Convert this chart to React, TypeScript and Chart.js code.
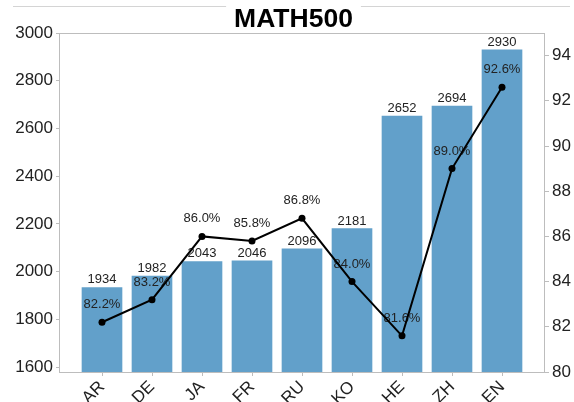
import React, { useEffect, useRef } from 'react';
import { Chart, registerables } from 'chart.js';

Chart.register(...registerables);

const categories = ['AR', 'DE', 'JA', 'FR', 'RU', 'KO', 'HE', 'ZH', 'EN'];
const tokenCounts = [1934, 1982, 2043, 2046, 2096, 2181, 2652, 2694, 2930];
const accuracy = [82.2, 83.2, 86.0, 85.8, 86.8, 84.0, 81.6, 89.0, 92.6];
const leftTicks = [1600, 1800, 2000, 2200, 2400, 2600, 2800, 3000];
const rightTicks = [80, 82, 84, 86, 88, 90, 92, 94];
const chartTitle = 'MATH500';

const FONT = '"Liberation Sans", Arial, sans-serif';
const TEXT = '#222';
const SPINE = '#bdbdbd';

const decor = {
  id: 'decor',
  beforeDatasetDraw(chart: any, args: any) {
    if (args.index !== 1) return;
    const ctx = chart.ctx;
    ctx.save();
    ctx.fillStyle = TEXT;
    ctx.font = `13px ${FONT}`;
    ctx.textAlign = 'center';
    ctx.textBaseline = 'alphabetic';
    chart.getDatasetMeta(0).data.forEach((el: any, i: number) => {
      ctx.fillText(String(tokenCounts[i]), el.x, el.y - 4);
    });
    chart.getDatasetMeta(1).data.forEach((el: any, i: number) => {
      ctx.fillText(accuracy[i].toFixed(1) + '%', el.x, el.y - 14);
    });
    ctx.restore();
  },
  afterDraw(chart: any) {
    const { ctx, chartArea: a } = chart;
    ctx.save();
    ctx.strokeStyle = SPINE;
    ctx.lineWidth = 1;
    ctx.strokeRect(a.left - 0.5, a.top + 0.5, a.right - a.left, a.bottom - a.top);
    ctx.font = `bold 26.5px ${FONT}`;
    const w = ctx.measureText(chartTitle).width;
    const cx = 293.5;
    ctx.strokeStyle = '#d4d4d4';
    ctx.beginPath();
    ctx.moveTo(13, 6.5);
    ctx.lineTo(cx - w / 2 - 8, 6.5);
    ctx.moveTo(cx + w / 2 + 8, 6.5);
    ctx.lineTo(570, 6.5);
    ctx.stroke();
    ctx.fillStyle = '#000';
    ctx.textAlign = 'center';
    ctx.textBaseline = 'alphabetic';
    ctx.fillText(chartTitle, cx, 27);
    ctx.restore();
  },
};

export default function App() {
  const ref = useRef<HTMLCanvasElement>(null);
  useEffect(() => {
    if (!ref.current) return;
    const tickFont = { family: FONT, size: 17 };
    const gridCfg = { drawOnChartArea: false, drawTicks: true, tickLength: 4, color: SPINE, offset: false };
    const chart = new Chart(ref.current, {
      type: 'bar',
      data: {
        datasets: [
          {
            type: 'bar',
            data: tokenCounts.map((v, i) => ({ x: i, y: v })),
            backgroundColor: '#62a0ca',
            borderWidth: 0,
            barThickness: 40,
            xAxisID: 'x',
            yAxisID: 'y',
            order: 1,
          } as any,
          {
            type: 'line',
            data: accuracy.map((v, i) => ({ x: i, y: v })),
            borderColor: '#000',
            borderWidth: 2,
            pointRadius: 3.5,
            pointBackgroundColor: '#000',
            pointBorderWidth: 0,
            tension: 0,
            xAxisID: 'x',
            yAxisID: 'y1',
            order: 0,
          } as any,
        ],
      },
      options: {
        animation: false,
        responsive: false,
        layout: { padding: { top: 33, left: 0, right: 0, bottom: 0 } },
        plugins: { legend: { display: false }, tooltip: { enabled: false }, title: { display: false } },
        scales: {
          x: {
            type: 'linear',
            min: -0.84,
            max: 8.86,
            offset: false,
            afterBuildTicks: (s: any) => {
              s.ticks = categories.map((_, i) => ({ value: i }));
            },
            afterFit: (s: any) => {
              s.height = 30;
            },
            ticks: {
              callback: (v: any) => categories[v] ?? '',
              minRotation: 45,
              maxRotation: 45,
              autoSkip: false,
              font: tickFont,
              color: TEXT,
              padding: 1,
            },
            grid: gridCfg,
            border: { display: false },
          },
          y: {
            position: 'left',
            min: 1580,
            max: 3000,
            afterBuildTicks: (s: any) => {
              s.ticks = leftTicks.map((v) => ({ value: v }));
            },
            afterFit: (s: any) => {
              s.width = 60;
            },
            ticks: { font: tickFont, color: TEXT, padding: 3, callback: (v: any) => String(v) },
            grid: gridCfg,
            border: { display: false },
          },
          y1: {
            position: 'right',
            min: 80,
            max: 95,
            afterBuildTicks: (s: any) => {
              s.ticks = rightTicks.map((v) => ({ value: v }));
            },
            afterFit: (s: any) => {
              s.width = 29;
            },
            ticks: { font: tickFont, color: TEXT, padding: 3, callback: (v: any) => String(v) },
            grid: gridCfg,
            border: { display: false },
          },
        },
      } as any,
      plugins: [decor],
    });
    return () => chart.destroy();
  }, []);
  return (
    <div style={{ position: 'fixed', left: 0, top: 0, width: 574, height: 402, background: '#fff' }}>
      <canvas ref={ref} width={574} height={402} />
    </div>
  );
}
